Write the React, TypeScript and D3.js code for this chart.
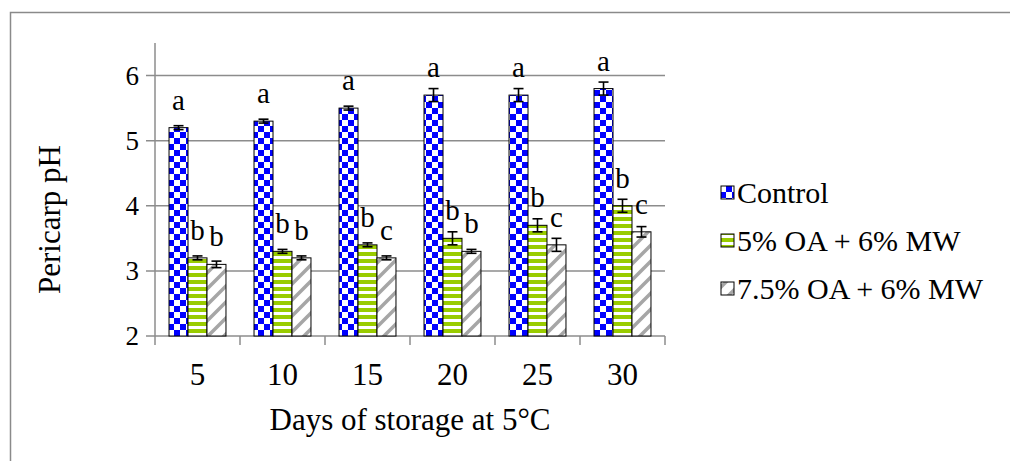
import React from "react";
import * as d3 from "d3";

const days = ["5", "10", "15", "20", "25", "30"];
const seriesNames = ["Control", "5% OA + 6% MW", "7.5% OA + 6% MW"];
const control = [5.2, 5.3, 5.5, 5.7, 5.7, 5.8];
const oa5 = [3.2, 3.3, 3.4, 3.5, 3.7, 4.0];
const oa75 = [3.1, 3.2, 3.2, 3.3, 3.4, 3.6];
const controlErr = [0.03, 0.03, 0.03, 0.1, 0.1, 0.1];
const oa5Err = [0.03, 0.03, 0.03, 0.1, 0.1, 0.1];
const oa75Err = [0.05, 0.03, 0.03, 0.03, 0.1, 0.08];
const controlLetters = ["a", "a", "a", "a", "a", "a"];
const oa5Letters = ["b", "b", "b", "b", "b", "b"];
const oa75Letters = ["b", "b", "c", "b", "c", "c"];
const yTicks = [2, 3, 4, 5, 6];

const series = [
  { name: seriesNames[0], values: control, errs: controlErr, letters: controlLetters, fill: "url(#checker)" },
  { name: seriesNames[1], values: oa5, errs: oa5Err, letters: oa5Letters, fill: "url(#greenStripe)" },
  { name: seriesNames[2], values: oa75, errs: oa75Err, letters: oa75Letters, fill: "url(#greyHatch)" },
];

const serif = { fontFamily: "'Liberation Serif', 'Times New Roman', Times, serif" };
const GRID = "#8c8c8c";

export default function App() {
  const W = 1010, H = 461;
  const left = 155, right = 665, top = 43, bottom = 336;

  const x0 = d3.scaleBand().domain(days).range([left, right]).paddingInner(0.33).paddingOuter(0.165);
  const x1 = d3.scaleBand().domain(seriesNames).range([0, x0.bandwidth()]);
  const y = d3.scaleLinear().domain([2, 6.5]).range([bottom, top]);
  const step = x0.step();

  return (
    <svg width={W} height={H} style={{ position: "absolute", left: 0, top: 0, background: "#fff" }}>
      <defs>
        <pattern id="checker" patternUnits="userSpaceOnUse" width={12} height={12}>
          <rect width={12} height={12} fill="#fff" />
          <rect width={6} height={6} fill="#0000ff" />
          <rect x={6} y={6} width={6} height={6} fill="#0000ff" />
        </pattern>
        <pattern id="greenStripe" patternUnits="userSpaceOnUse" width={7} height={7}>
          <rect width={7} height={7} fill="#fff" />
          <rect width={7} height={4} fill="#99cc00" />
        </pattern>
        <pattern id="greyHatch" patternUnits="userSpaceOnUse" width={16} height={16}>
          <rect width={16} height={16} fill="#fff" />
          <path d="M0,16 L16,0 M-4,4 L4,-4 M12,20 L20,12" stroke="#a6a6a6" strokeWidth={3.5} />
        </pattern>
      </defs>

      {/* outer frame */}
      <rect x={10.5} y={12.5} width={1200} height={700} fill="none" stroke="#8a8a8a" strokeWidth={1.5} />

      {/* gridlines + y ticks */}
      {yTicks.map(t => (
        <g key={t}>
          <line x1={left - 9} x2={right} y1={y(t)} y2={y(t)} stroke={GRID} strokeWidth={1.5} />
          <text x={139} y={y(t) + 9} textAnchor="end" fontSize={27} style={serif}>{t}</text>
        </g>
      ))}
      {/* y axis */}
      <line x1={left} x2={left} y1={top} y2={bottom + 9} stroke={GRID} strokeWidth={1.5} />
      {/* x tick marks */}
      {days.map((d, i) => (
        <line key={d} x1={left + step * (i + 1)} x2={left + step * (i + 1)} y1={bottom} y2={bottom + 9} stroke={GRID} strokeWidth={1.5} />
      ))}

      {/* bars */}
      {series.map(s => (
        <g key={s.name}>
          {days.map((d, i) => {
            const bx = (x0(d) as number) + (x1(s.name) as number);
            const bw = x1.bandwidth();
            const cx = bx + bw / 2;
            const v = s.values[i];
            const e = s.errs[i];
            return (
              <g key={d}>
                <rect x={bx} y={y(v)} width={bw} height={bottom - y(v)} fill={s.fill} stroke="#000" strokeWidth={1} />
                <line x1={cx} x2={cx} y1={y(v + e)} y2={y(v - e)} stroke="#000" strokeWidth={1.6} />
                <line x1={cx - 5} x2={cx + 5} y1={y(v + e)} y2={y(v + e)} stroke="#000" strokeWidth={1.6} />
                <line x1={cx - 5} x2={cx + 5} y1={y(v - e)} y2={y(v - e)} stroke="#000" strokeWidth={1.6} />
                <text x={cx} y={y(v) - 18} textAnchor="middle" fontSize={29} style={serif}>{s.letters[i]}</text>
              </g>
            );
          })}
        </g>
      ))}

      {/* x tick labels */}
      {days.map(d => (
        <text key={d} x={(x0(d) as number) + x0.bandwidth() / 2} y={385} textAnchor="middle" fontSize={31} style={serif}>{d}</text>
      ))}

      {/* axis titles */}
      <text x={(left + right) / 2} y={430} textAnchor="middle" fontSize={31} style={serif}>Days of storage at 5°C</text>
      <text x={0} y={0} transform={`translate(60,${(top + bottom) / 2 + 30}) rotate(-90)`} textAnchor="middle" fontSize={31} style={serif}>Pericarp pH</text>

      {/* legend */}
      {series.map((s, i) => (
        <g key={s.name}>
          <rect x={721} y={186 + i * 48} width={13} height={13} fill={s.fill} stroke="#000" strokeWidth={1} />
          <text x={737} y={203 + i * 48} fontSize={30} style={serif}>{s.name}</text>
        </g>
      ))}
    </svg>
  );
}
